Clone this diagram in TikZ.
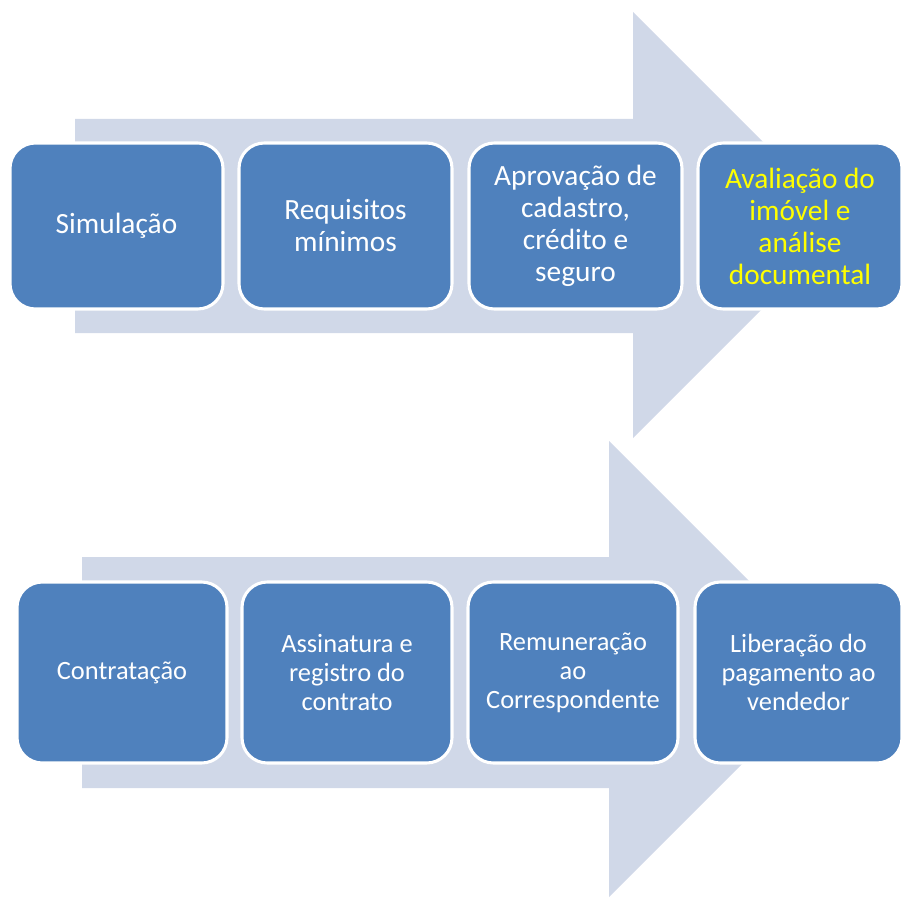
\documentclass[tikz,border=0pt]{standalone}
\usepackage{fontspec}
\setmainfont{Carlito}
\definecolor{stepblue}{HTML}{4F81BD}
\definecolor{arrowgray}{HTML}{D0D8E8}
\definecolor{markyellow}{HTML}{FFFF00}
\begin{document}
\begin{tikzpicture}[x=0.75pt,y=-0.75pt]
\tikzset{
  stage/.style={draw=white,line width=2.3pt,fill=stepblue,rounded corners=19pt,
    minimum width=213*0.75pt,minimum height=166*0.75pt,inner sep=0pt,
    align=center,text=white,font=\fontsize{22}{24}\selectfont},
  lowstage/.style={stage,minimum width=210*0.75pt,minimum height=181*0.75pt,
    font=\fontsize{19.8}{21.8}\selectfont},
  bigarrow/.style={fill=arrowgray}
}
\useasboundingbox (0,0) rectangle (901,899);
\clip (0,0) rectangle (901,899);
\fill [bigarrow] (75,119) -- (633,119) -- (633,12) -- (846,225) -- (633,438) -- (633,333) -- (75,333) -- cycle;
\fill [bigarrow] (82,557) -- (609,557) -- (609,441) -- (837,669) -- (609,897) -- (609,788) -- (82,788) -- cycle;
\node [stage] (simul) at (116.5,226) {Simulação};
\node [stage] (requis) at (345.5,226) {Requisitos\\mínimos};
\node [stage] (aprov) at (575.5,226) {Aprovação de\\cadastro,\\crédito e\\seguro};
\node [stage,text=markyellow,minimum width=204*0.75pt] (avalia) at (800,226) {Avaliação do\\imóvel e\\análise\\documental};
\node [lowstage] (contrat) at (122,672.5) {Contratação};
\node [lowstage] (assin) at (347,672.5) {Assinatura e\\registro do\\contrato};
\node [lowstage] (remun) at (573,672.5) {Remuneração\\ao\\Correspondente};
\node [lowstage,minimum width=207*0.75pt] (liber) at (798.5,672.5) {Liberação do\\pagamento ao\\vendedor};
\end{tikzpicture}
\end{document}
